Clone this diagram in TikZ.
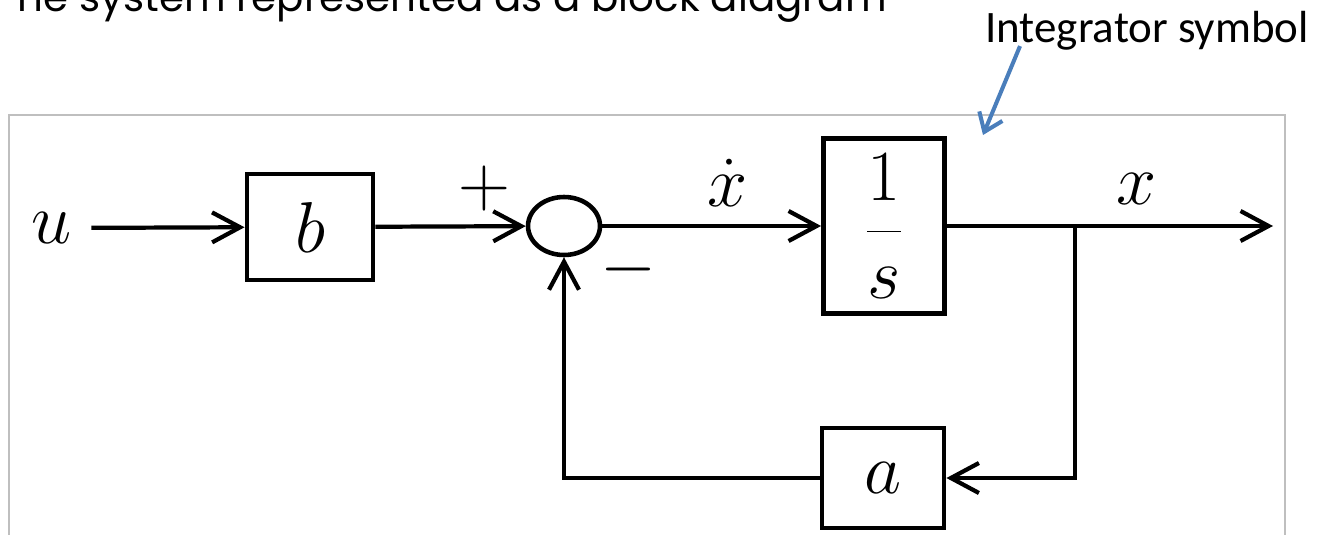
\RequirePackage{fix-cm}
\documentclass[tikz,border=0pt]{standalone}
\usepackage{fontspec}
\setmainfont{Carlito}
\newfontfamily\headfont{Poppins}
\usetikzlibrary{arrows.meta,shapes.geometric}
\definecolor{officeblue}{HTML}{4A7EBB}
\tikzset{
  big/.style={font=\fontsize{41}{44}\selectfont},
  blk/.style={draw, line width=2.8pt, inner sep=0pt, big},
  lbl/.style={inner sep=0pt, big},
  wire/.style={line width=2.4pt},
  sig/.style={wire, -{Straight Barb[length=0.56cm,width=0.6cm,line width=2.4pt]}},
  pointer/.style={officeblue, line width=2.3pt, -{Straight Barb[length=0.34cm,width=0.5cm,line width=2.3pt]}},
}
\begin{document}
\begin{tikzpicture}[x=0.02cm, y=-0.02cm]
  \useasboundingbox (0,0) rectangle (1337,534);
  \clip (0,0) rectangle (1337,534);

  \node (head) [anchor=base east, inner sep=0pt, font=\headfont\fontsize{23}{26}\selectfont] at (887,11) {he system represented as a block diagram};
  \node (note) [anchor=base west, inner sep=0pt, font=\fontsize{25.6}{30}\selectfont] at (985,42) {Integrator symbol};
  \draw [black!25, line width=0.6pt] (9,115) rectangle (1285,560);

  \node (u) [lbl, inner xsep=0.38cm] at (52,228) {$u$};
  \node (b) [blk, minimum width=2.52cm, minimum height=2.12cm] at (310,227) {$b$};
  \node (sum) [ellipse, draw, line width=2.6pt, minimum width=1.44cm, minimum height=1.16cm, inner sep=0pt] at (564,226) {};
  \node (integ) [blk, minimum width=2.42cm, minimum height=3.5cm] at (884,226) {$\displaystyle\frac{1}{s}$};
  \node (a) [blk, minimum width=2.44cm, minimum height=2.0cm] at (883,478) {$a$};

  \node (plus) [lbl] at (484,188) {$+$};
  \node (minus) [lbl] at (629,269) {$-$};
  \node (xdot) [lbl] at (728,183) {$\dot{x}$};
  \node (xout) [lbl] at (1137,189) {$x$};

  \coordinate (branch) at (1075,226);
  \coordinate (out) at (1273,226);
  \coordinate (tip) at (983,135);

  \draw [sig] (u) -- (b);
  \draw [sig] (b) -- (sum);
  \draw [sig] (sum) -- (integ);
  \draw [sig] (integ) -- (out);
  \draw [sig] (branch) |- (a);
  \draw [sig] (a) -| (sum);

  \draw [pointer] ([xshift=0.7cm, yshift=0.08cm]note.south west) -- (tip);
\end{tikzpicture}
\end{document}
